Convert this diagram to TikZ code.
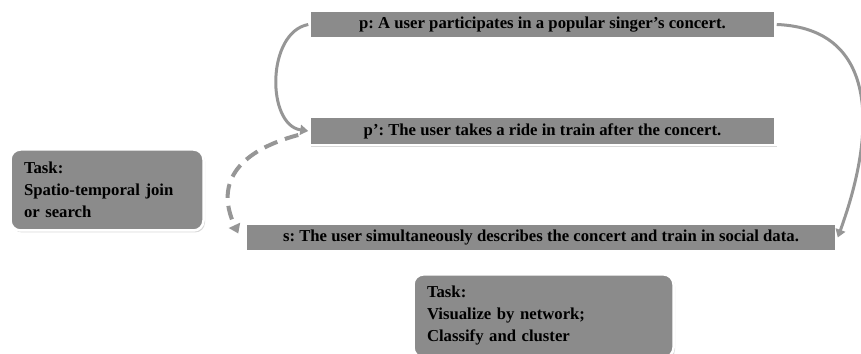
\documentclass[tikz,border=0pt]{standalone}
\usepackage{fontspec}
\setmainfont{Liberation Serif}
\usepackage{tikz}
\usetikzlibrary{positioning}
\usetikzlibrary{shadows}
\usetikzlibrary{arrows.meta}
\usepackage{xcolor}
\frenchspacing

\definecolor{boxgray}{RGB}{139,139,139}
\definecolor{arrowgray}{RGB}{150,150,150}

\tikzset{
  stmt/.style={fill=boxgray, draw=white, line width=2.5pt, minimum height=28pt,
    font=\bfseries\fontsize{16.7}{20}\selectfont,
    drop shadow={opacity=0.3, shadow xshift=1.5pt, shadow yshift=-2pt}},
  task/.style={stmt, rounded corners=10pt, align=left, inner sep=12pt,
    font=\bfseries\fontsize{16.7}{22}\selectfont},
  flow/.style={draw=arrowgray, line width=3pt, -{Triangle[width=10pt,length=8pt]}},
  link/.style={flow, dash pattern=on 14pt off 8pt, line width=4pt,
    -{Triangle[width=12pt,length=9pt]}}
}

\begin{document}
\begin{tikzpicture}[x=1pt, y=1pt]

\useasboundingbox (0,0) rectangle (861,353);

% the three statements
\node[stmt, minimum width=466pt] (p) at (542.5,328.5)
{p: A user participates in a popular singer's concert.};

\node[stmt, minimum width=466pt] (pp) at (542.5,222)
{p': The user takes a ride in train after the concert.};

\node[stmt, minimum width=591pt] (s) at (541,115.5)
{s: The user simultaneously describes the concert and train in social data.};

% the two tasks
\node[task, minimum width=193pt, minimum height=81pt, text width=166pt] (join) at (107,163)
{Task:\\ Spatio-temporal join\\ or search};

\node[task, minimum width=260pt, minimum height=75pt, text width=233pt] (vis) at (543.5,37)
{Task:\\ Visualize by network;\\ Classify and cluster};

% connectors
\draw[flow] (p.west) .. controls +(-42,-8) and +(-42,6) .. (pp.west);

\draw[flow] (p.east) .. controls +(100,-4) and +(40,110) .. (s.east);

\coordinate[left=10pt of pp.west, yshift=-4pt] (from);
\coordinate[left=6pt of s.west, yshift=4pt] (to);
\draw[link] (from) to[out=195, in=115, looseness=1.3] (to);

\end{tikzpicture}
\end{document}
